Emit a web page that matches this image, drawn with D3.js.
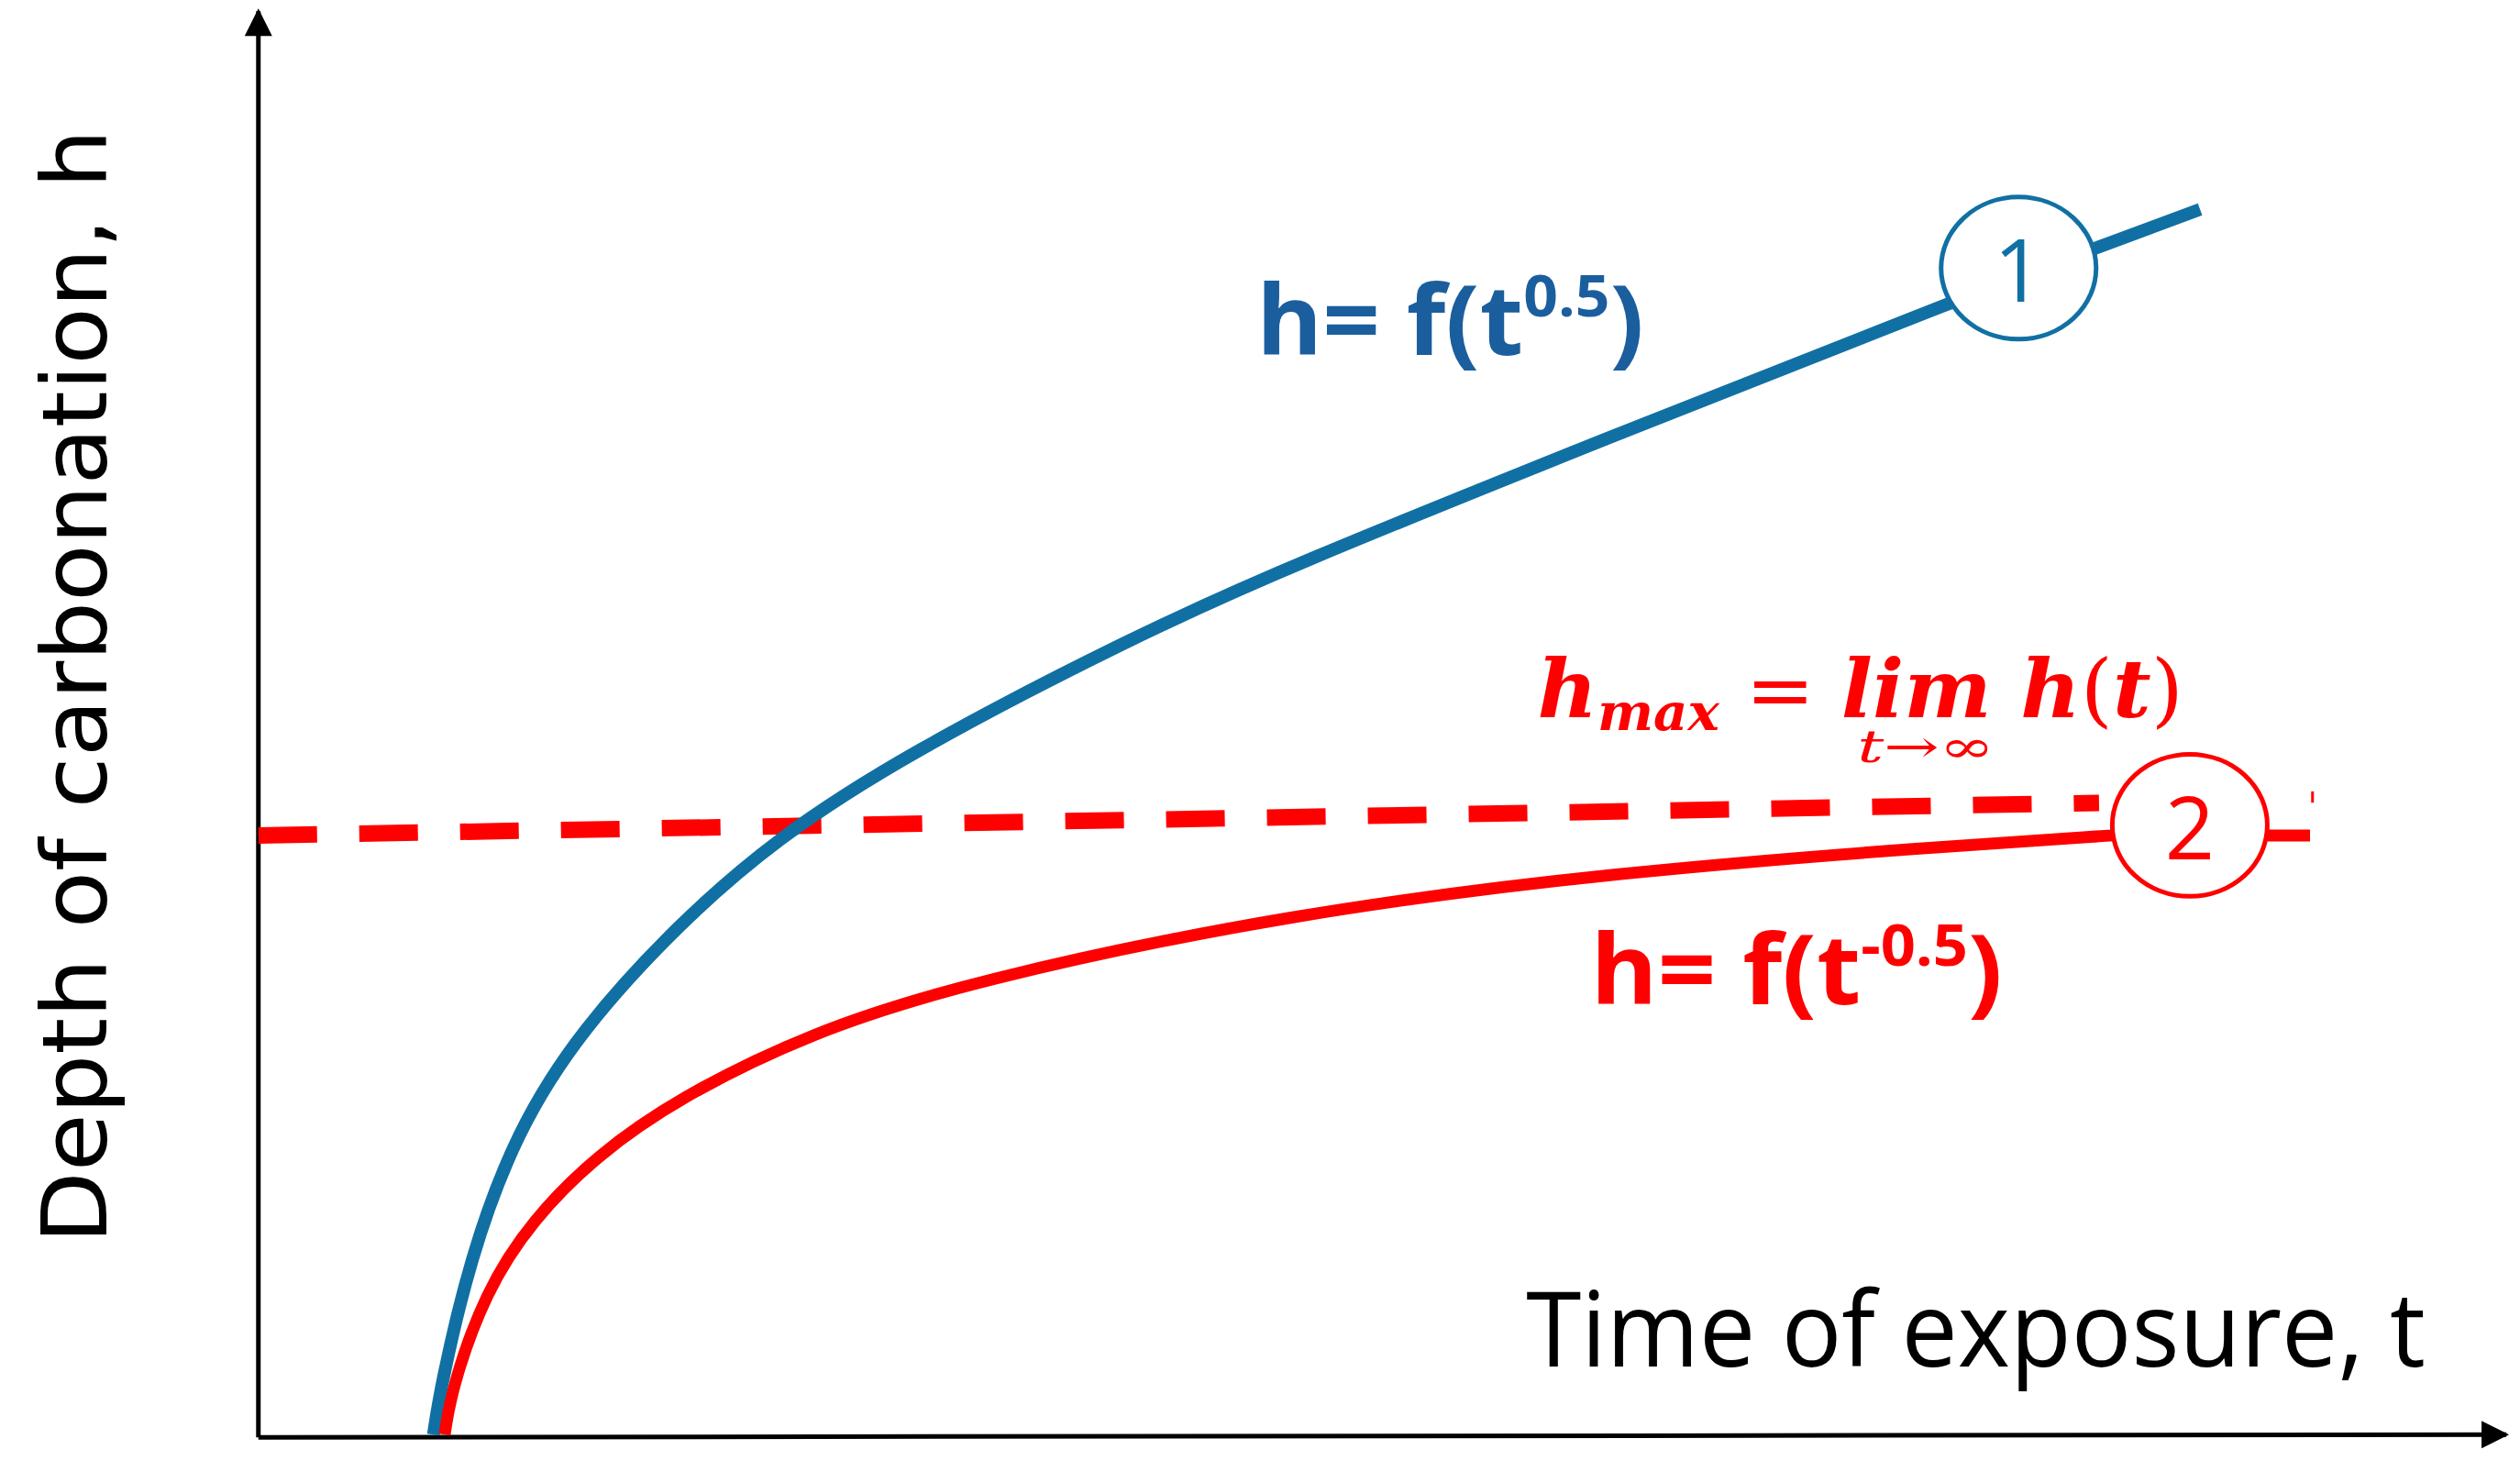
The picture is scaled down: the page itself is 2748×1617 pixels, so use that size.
<!DOCTYPE html>
<html>
<head>
<meta charset="utf-8">
<script src="https://cdn.jsdelivr.net/npm/d3@7"></script>
<style>
  body { margin: 0; background: #fff; }
</style>
</head>
<body>
<div id="chart"></div>
<script>
// curve values (t and h in 0..100 units)
const blueT = [7.8, 8.1, 9.4, 11.5, 14.4, 18.7, 23.0, 28.8, 38.9, 46.0, 60.4, 74.8, 86.5];
const blueH = [0.2, 3.4, 12.6, 21.7, 28.9, 36.3, 42.3, 48.3, 56.6, 61.7, 70.9, 80.0, 86.9];
const redT = [8.3, 8.6, 10.1, 12.2, 15.1, 18.7, 24.5, 31.7, 46.0, 60.4, 74.8, 82.6];
const redH = [0.2, 3.4, 10.3, 15.4, 20.0, 24.0, 28.6, 32.3, 37.1, 40.0, 41.8, 42.6];
const redTailT = [89.5, 91.4];
const redTailH = [42.6, 42.6];
const dashT = [0, 82.0];
const dashH = [42.6, 44.9];

const W = 2748, H = 1617, S = 1.761;
const svg = d3.select("#chart").append("svg")
    .attr("width", W).attr("height", H);

const x = d3.scaleLinear().domain([0, 100]).range([160 * S, 1550 * S]);
const y = d3.scaleLinear().domain([0, 100]).range([890 * S, 15 * S]);

const blue = "#1170a3", blueText = "#1b5e9e", red = "#ff0000";

// arrow head
svg.append("defs").append("marker")
    .attr("id", "arr").attr("viewBox", "0 0 10 10")
    .attr("refX", 9).attr("refY", 5)
    .attr("markerWidth", 7).attr("markerHeight", 6)
    .attr("markerUnits", "strokeWidth")
    .attr("orient", "auto")
    .append("path").attr("d", "M0,0 L10,5 L0,10 Z").attr("fill", "#000");

// axes
svg.append("line")
    .attr("x1", x(0)).attr("y1", y(0)).attr("x2", x(0)).attr("y2", y(100) - 8 * S)
    .attr("stroke", "#000").attr("stroke-width", 5).attr("marker-end", "url(#arr)");
svg.append("line")
    .attr("x1", x(0)).attr("y1", y(0)).attr("x2", x(100) + 2 * S).attr("y2", y(0.2))
    .attr("stroke", "#000").attr("stroke-width", 5).attr("marker-end", "url(#arr)");

const line = d3.line().curve(d3.curveBasis)
    .x(d => x(d[0])).y(d => y(d[1]));

// dashed limit
svg.append("path")
    .datum(d3.zip(dashT, dashH))
    .attr("d", line).attr("fill", "none")
    .attr("stroke", red).attr("stroke-width", 18)
    .attr("stroke-dasharray", "64,46");

// curves
svg.append("path").datum(d3.zip(blueT, blueH))
    .attr("d", line).attr("fill", "none")
    .attr("stroke", blue).attr("stroke-width", 14);
svg.append("path").datum(d3.zip(redT, redH))
    .attr("d", line).attr("fill", "none")
    .attr("stroke", red).attr("stroke-width", 13);
svg.append("path").datum(d3.zip(redTailT, redTailH))
    .attr("d", line).attr("fill", "none")
    .attr("stroke", red).attr("stroke-width", 13);
// small tick at the right end
svg.append("line")
    .attr("x1", 1432 * S).attr("x2", 1432 * S)
    .attr("y1", 490 * S).attr("y2", 497 * S)
    .attr("stroke", red).attr("stroke-width", 3);

// numbered circles
function badge(cx, cy, label, col) {
  svg.append("ellipse").attr("cx", cx * S).attr("cy", cy * S)
      .attr("rx", 48 * S).attr("ry", 44 * S)
      .attr("fill", "#fff").attr("stroke", col).attr("stroke-width", 5);
  svg.append("text").attr("x", cx * S).attr("y", cy * S + 30 * S * 0.55 + 8)
      .attr("text-anchor", "middle").attr("fill", col)
      .style("font-family", "'Open Sans', sans-serif").style("font-size", (54 * S) + "px")
      .text(label);
}
badge(1250, 166, "1", blue);
badge(1356, 511, "2", red);

// axis labels
svg.append("text")
    .attr("transform", `translate(${66 * S},${425 * S}) rotate(-90)`)
    .attr("text-anchor", "middle")
    .style("font-family", "'DejaVu Sans', sans-serif").style("font-size", (56 * S) + "px")
    .attr("textLength", 690 * S).attr("lengthAdjust", "spacingAndGlyphs")
    .text("Depth of carbonation, h");
svg.append("text")
    .attr("x", 945 * S).attr("y", 846 * S)
    .style("font-family", "'Liberation Sans Narrow', 'Open Sans', sans-serif")
    .style("font-size", (64 * S) + "px")
    .attr("textLength", 557 * S).attr("lengthAdjust", "spacingAndGlyphs")
    .text("Time of exposure, t");

// curve formulas
function formula(x0, yb, sup, col, len) {
  const t = svg.append("text").attr("x", x0 * S).attr("y", yb * S)
      .attr("fill", col).attr("font-weight", "bold")
      .style("font-family", "'Open Sans', sans-serif").style("font-size", (60 * S) + "px")
      .attr("textLength", len * S).attr("lengthAdjust", "spacingAndGlyphs");
  t.append("tspan").text("h= f(t");
  t.append("tspan").attr("dy", -24 * S).style("font-size", (36 * S) + "px").text(sup);
  t.append("tspan").attr("dy", 24 * S).text(")");
}
formula(778, 220, "0.5", blueText, 240);
formula(985, 622, "-0.5", red, 255);

// limit formula
const lim = svg.append("text").attr("x", 952 * S).attr("y", 444 * S)
    .attr("fill", red).attr("font-weight", "bold").attr("font-style", "italic")
    .style("font-family", "'DejaVu Serif', serif").style("font-size", (50 * S) + "px")
    .attr("textLength", 400 * S).attr("lengthAdjust", "spacingAndGlyphs");
lim.append("tspan").text("h");
lim.append("tspan").attr("dy", 8 * S).style("font-size", (32 * S) + "px").text("max");
lim.append("tspan").attr("dy", -8 * S).attr("font-style", "normal").attr("font-weight", "normal").text(" = ");
lim.append("tspan").text("lim ");
lim.append("tspan").text("h");
lim.append("tspan").attr("font-style", "normal").attr("font-weight", "normal").text("(");
lim.append("tspan").text("t");
lim.append("tspan").attr("font-style", "normal").attr("font-weight", "normal").text(")");
svg.append("text").attr("x", 1150 * S).attr("y", 472 * S)
    .attr("fill", red).attr("font-style", "italic")
    .style("font-family", "'DejaVu Serif', serif").style("font-size", (28 * S) + "px")
    .attr("textLength", 85 * S).attr("lengthAdjust", "spacingAndGlyphs")
    .text("t→∞");
</script>
</body>
</html>
